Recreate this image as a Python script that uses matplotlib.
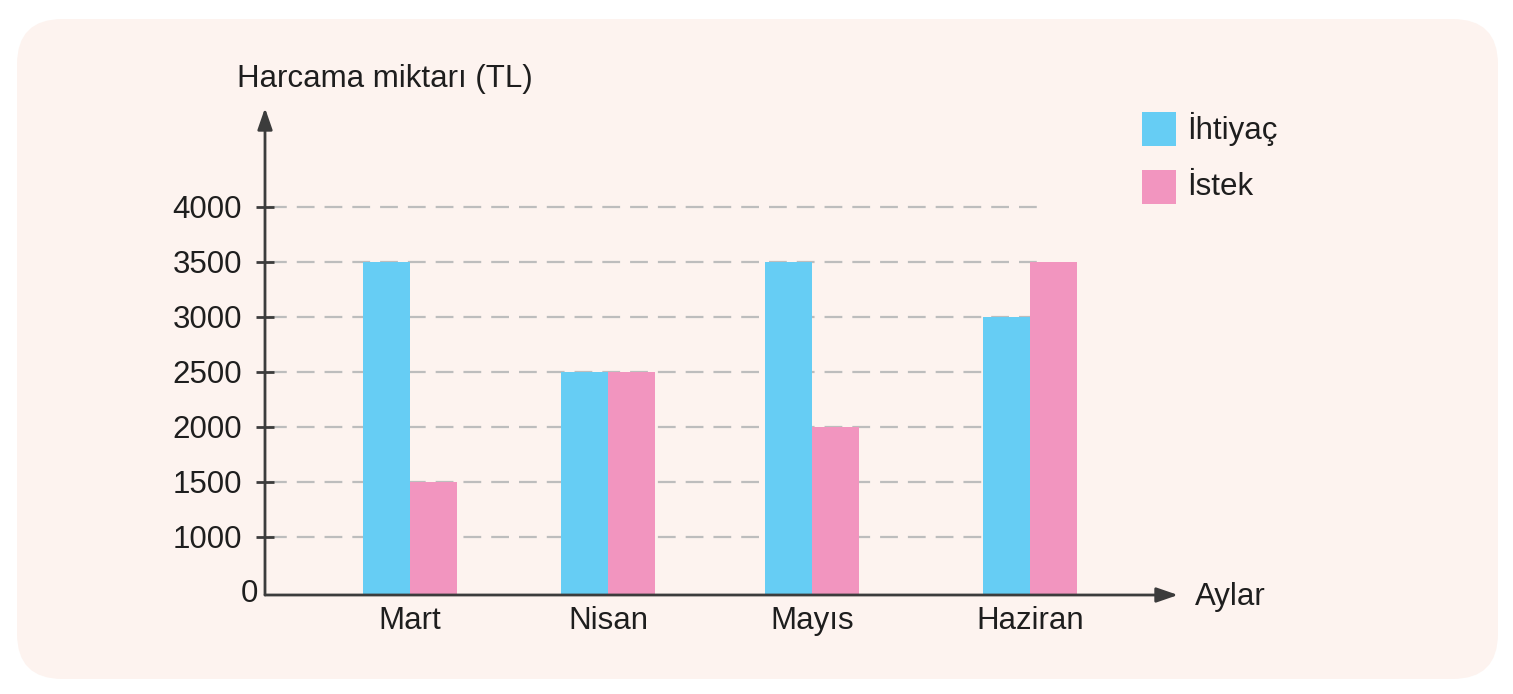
import numpy as np
import matplotlib
matplotlib.use("Agg")
import matplotlib.pyplot as plt
import matplotlib.transforms as mtransforms
from matplotlib.patches import FancyBboxPatch

plt.rcParams['font.family'] = ['Liberation Sans', 'DejaVu Sans']

# data
months = ['Mart', 'Nisan', 'Mayıs', 'Haziran']
ihtiyac = [3500, 2500, 3500, 3000]
istek = [1500, 2500, 2000, 3500]
yticks = [0, 1000, 1500, 2000, 2500, 3000, 3500, 4000]
series_names = ['İhtiyaç', 'İstek']

# layout (pixel-like x units)
group_x = np.array([410, 608, 812, 1030])
bar_w = 47
c_blue = '#66cdf4'
c_pink = '#f295bf'
c_axis = '#3c3c3c'
c_text = '#1e1e1e'
fs = 22.5

W, H = 1513, 694
fig = plt.figure(figsize=(W / 100, H / 100), dpi=100)
fig.patch.set_facecolor('white')

# rounded panel behind everything
panel = FancyBboxPatch((17 / W, 15 / H), (1498 - 17) / W, (678 - 18) / H,
                       boxstyle='round,pad=0,rounding_size=0.03',
                       transform=fig.transFigure, facecolor='#fdf3ef',
                       edgecolor='none', zorder=-5, mutation_aspect=W / H)
fig.patches.append(panel)

# axes placed so that x-axis at y=595, y-axis at x=265
x0, x1 = 265, 1178
y0, y1 = 595, 108
ax = fig.add_axes([x0 / W, (H - y0) / H, (x1 - x0) / W, (y0 - y1) / H])
ax.set_facecolor('none')
ax.set_zorder(2)


# y scale: 0 -> 1000 takes roughly one step, then 500 per step
def fwd(v):
    v = np.asarray(v, dtype=float)
    return np.where(v <= 1000, v / 1000 * 1.055, 1.055 + (v - 1000) / 500)


def inv(p):
    p = np.asarray(p, dtype=float)
    return np.where(p <= 1.055, p / 1.055 * 1000, 1000 + (p - 1.055) * 500)


ax.set_yscale('function', functions=(fwd, inv))
top_pos = (y0 - y1) / 55.0
ax.set_ylim(0, float(inv(top_pos)))
ax.set_xlim(x0, x1)

ax.bar(group_x - bar_w / 2, ihtiyac, width=bar_w, color=c_blue, zorder=3)
ax.bar(group_x + bar_w / 2, istek, width=bar_w, color=c_pink, zorder=3)

# dashed guide lines
for v in yticks[1:]:
    ax.axhline(v, xmin=0.004, xmax=(1040 - x0) / (x1 - x0), color='#bdbdbd',
               lw=1.6, ls=(0, (8, 4.5)), zorder=1)

for s in ax.spines.values():
    s.set_visible(False)

# axis arrows
arrow = dict(arrowstyle='-|>,head_length=1.3,head_width=0.45',
             color=c_axis, lw=2, shrinkA=0, shrinkB=0)
ax.annotate('', xy=(0, 1), xytext=(0, 0), xycoords='axes fraction',
            arrowprops=arrow, zorder=4)
ax.annotate('', xy=(1, 0), xytext=(0, 0), xycoords='axes fraction',
            arrowprops=arrow, zorder=4)

ax.set_yticks(yticks)
ax.set_yticklabels([str(v) for v in yticks])
ax.tick_params(axis='y', direction='inout', length=13, width=2, color=c_axis,
               labelsize=fs, labelcolor=c_text, pad=10)
ax.yaxis.get_major_ticks()[0].tick1line.set_visible(False)
ax.set_xticks(group_x)
ax.set_xticklabels(months)
ax.tick_params(axis='x', length=0, labelsize=fs, labelcolor=c_text, pad=8)
ax.minorticks_off()

# the "0" label sits closer to the axis in the original
zero_lab = ax.get_yticklabels()[0]
zero_lab.set_transform(zero_lab.get_transform() +
                       mtransforms.ScaledTranslation(16 / 100, 5 / 100,
                                                     fig.dpi_scale_trans))

fig.text(237 / W, (H - 79) / H, 'Harcama miktarı (TL)', fontsize=fs,
         color=c_text, va='center', ha='left')
fig.text(1195 / W, (H - 597) / H, 'Aylar', fontsize=fs, color=c_text,
         va='center', ha='left')

# legend
for i, (name, col) in enumerate(zip(series_names, [c_blue, c_pink])):
    yc = 129 + i * 58
    fig.patches.append(plt.Rectangle((1142 / W, (H - yc - 17) / H), 34 / W, 34 / H,
                                     transform=fig.transFigure, facecolor=col,
                                     edgecolor='none'))
    fig.text(1187 / W, (H - yc) / H, name, fontsize=fs, color=c_text,
             va='center', ha='left')

fig.savefig('out.png', dpi=100, facecolor='white')
